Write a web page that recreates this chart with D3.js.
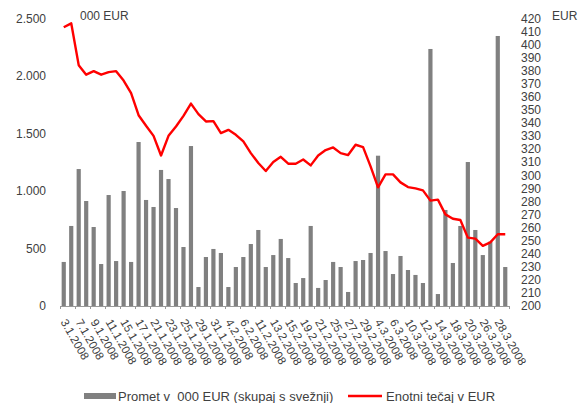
<!DOCTYPE html>
<html>
<head>
<meta charset="utf-8">
<script src="https://cdn.jsdelivr.net/npm/d3@7"></script>
<style>
  body { margin: 0; background: #fff; }
  text { font-family: "Liberation Sans", Arial, sans-serif; font-size: 12px; fill: #404040; }
</style>
</head>
<body>
<div id="chart"></div>
<script>
var dates = ["3.1.2008", "4.1.2008", "7.1.2008", "8.1.2008", "9.1.2008", "10.1.2008", "11.1.2008", "14.1.2008",
  "15.1.2008", "16.1.2008", "17.1.2008", "18.1.2008", "21.1.2008", "22.1.2008", "23.1.2008", "24.1.2008",
  "25.1.2008", "28.1.2008", "29.1.2008", "30.1.2008", "31.1.2008", "1.2.2008", "4.2.2008", "5.2.2008",
  "6.2.2008", "7.2.2008", "11.2.2008", "12.2.2008", "13.2.2008", "14.2.2008", "15.2.2008", "18.2.2008",
  "19.2.2008", "20.2.2008", "21.2.2008", "22.2.2008", "25.2.2008", "26.2.2008", "27.2.2008", "28.2.2008",
  "29.2.2008", "3.3.2008", "4.3.2008", "5.3.2008", "6.3.2008", "7.3.2008", "10.3.2008", "11.3.2008",
  "12.3.2008", "13.3.2008", "14.3.2008", "17.3.2008", "18.3.2008", "19.3.2008", "20.3.2008", "25.3.2008",
  "26.3.2008", "27.3.2008", "28.3.2008", "31.3.2008"];

// promet v 000 EUR (skupaj s svežnji)
var turnover = [383, 696, 1191, 913, 687, 365, 965, 391, 1000, 383,
  1426, 922, 861, 1183, 1104, 852, 513, 1391, 165, 426,
  496, 461, 165, 339, 426, 539, 661, 339, 443, 583,
  417, 200, 243, 696, 157, 226, 383, 339, 122, 391,
  400, 461, 1307, 478, 278, 435, 313, 270, 200, 2235,
  104, 835, 374, 696, 1252, 661, 443, 559, 2348, 339];

// enotni tečaj v EUR
var price = [413.3, 416.3, 384.3, 377, 379.7, 377, 379, 379.7, 372.5, 362.9,
  346, 337.9, 330.2, 315.2, 330.2, 337.4, 345.5, 354.9, 346.8, 341.2,
  341.5, 332.3, 334.8, 331, 325.9, 317, 309.4, 303.3, 310.2, 314.2,
  308.9, 308.9, 312.1, 307.6, 315.2, 319.3, 321.3, 317, 315.5, 323.4,
  321.6, 306.8, 290.8, 300.7, 300.7, 294.6, 291, 290, 288.5, 280.6,
  281.4, 270.1, 266.8, 265.8, 252.3, 251.6, 246, 248.7, 254.9, 254.9];

var leftTicks = [0, 500, 1000, 1500, 2000, 2500];
var rightTicks = d3.range(200, 421, 10);

var width = 579, height = 403;
var plotLeft = 60, plotRight = 509, plotTop = 18.5, plotBottom = 306;

var svg = d3.select("#chart").append("svg").attr("width", width).attr("height", height);

var x = d3.scaleBand().domain(dates).range([plotLeft, plotRight]).paddingInner(0.44).paddingOuter(0.22);
var yL = d3.scaleLinear().domain([0, 2500]).range([plotBottom, plotTop]);
var yR = d3.scaleLinear().domain([200, 420]).range([plotBottom, plotTop]);
var fmt = function (d) { return d3.format(",")(d).replace(/,/g, "."); };

// bars
svg.append("g").selectAll("rect").data(turnover).enter().append("rect")
  .attr("x", function (d, i) { return x(dates[i]); })
  .attr("y", function (d) { return yL(d); })
  .attr("width", x.bandwidth())
  .attr("height", function (d) { return yL(0) - yL(d); })
  .attr("fill", "#808080");

// category axis, tick + label on every second day
var gap = (x.step() - x.bandwidth()) / 2;
var tickPos = dates.filter(function (d, i) { return i % 2 === 0; })
  .map(function (d) { return x(d) - gap; }).concat([plotRight]);
var gX = svg.append("g");
gX.append("line").attr("x1", plotLeft).attr("x2", plotRight).attr("y1", plotBottom + 0.5).attr("y2", plotBottom + 0.5)
  .attr("stroke", "#999").attr("stroke-width", 1);
gX.selectAll("line.tick").data(tickPos).enter().append("line").attr("class", "tick")
  .attr("x1", function (d) { return Math.round(d) + 0.5; }).attr("x2", function (d) { return Math.round(d) + 0.5; })
  .attr("y1", plotBottom).attr("y2", plotBottom + 3).attr("stroke", "#999");
gX.selectAll("text").data(dates.filter(function (d, i) { return i % 2 === 0; })).enter().append("text")
  .attr("transform", function (d) { return "translate(" + (x(d) + x.bandwidth() / 2) + "," + 320 + ") rotate(60)"; })
  .attr("dy", "0.35em")
  .style("font-size", "11.5px")
  .text(function (d) { return d; });

// left axis labels
svg.append("g").selectAll("text").data(leftTicks).enter().append("text")
  .attr("x", 46).attr("y", function (d) { return yL(d); }).attr("dy", "0.35em")
  .attr("text-anchor", "end").text(fmt);

// right axis labels
svg.append("g").selectAll("text").data(rightTicks).enter().append("text")
  .attr("x", 521).attr("y", function (d) { return yR(d); }).attr("dy", "0.35em")
  .attr("text-anchor", "start").text(function (d) { return d; });

// line
var line = d3.line()
  .x(function (d, i) { return x(dates[i]) + x.bandwidth() / 2; })
  .y(function (d) { return yR(d); });
svg.append("path").datum(price).attr("d", line)
  .attr("fill", "none").attr("stroke", "#ff0000").attr("stroke-width", 2.4).attr("stroke-linejoin", "round");

// unit labels
svg.append("text").attr("x", 80).attr("y", 20).text("000 EUR");
svg.append("text").attr("x", 552).attr("y", 20).text("EUR");

// legend
var lg = svg.append("g").style("font-size", "13px");
lg.append("rect").attr("x", 84).attr("y", 393).attr("width", 32).attr("height", 6).attr("fill", "#808080");
lg.append("text").attr("x", 118).attr("y", 396).attr("dy", "0.35em").style("font-size", "13px")
  .style("white-space", "pre").text("Promet v  000 EUR (skupaj s svežnji)");
lg.append("line").attr("x1", 348).attr("x2", 382).attr("y1", 396).attr("y2", 396)
  .attr("stroke", "#ff0000").attr("stroke-width", 2.4);
lg.append("text").attr("x", 386).attr("y", 396).attr("dy", "0.35em").style("font-size", "13px")
  .text("Enotni tečaj v EUR");
</script>
</body>
</html>
